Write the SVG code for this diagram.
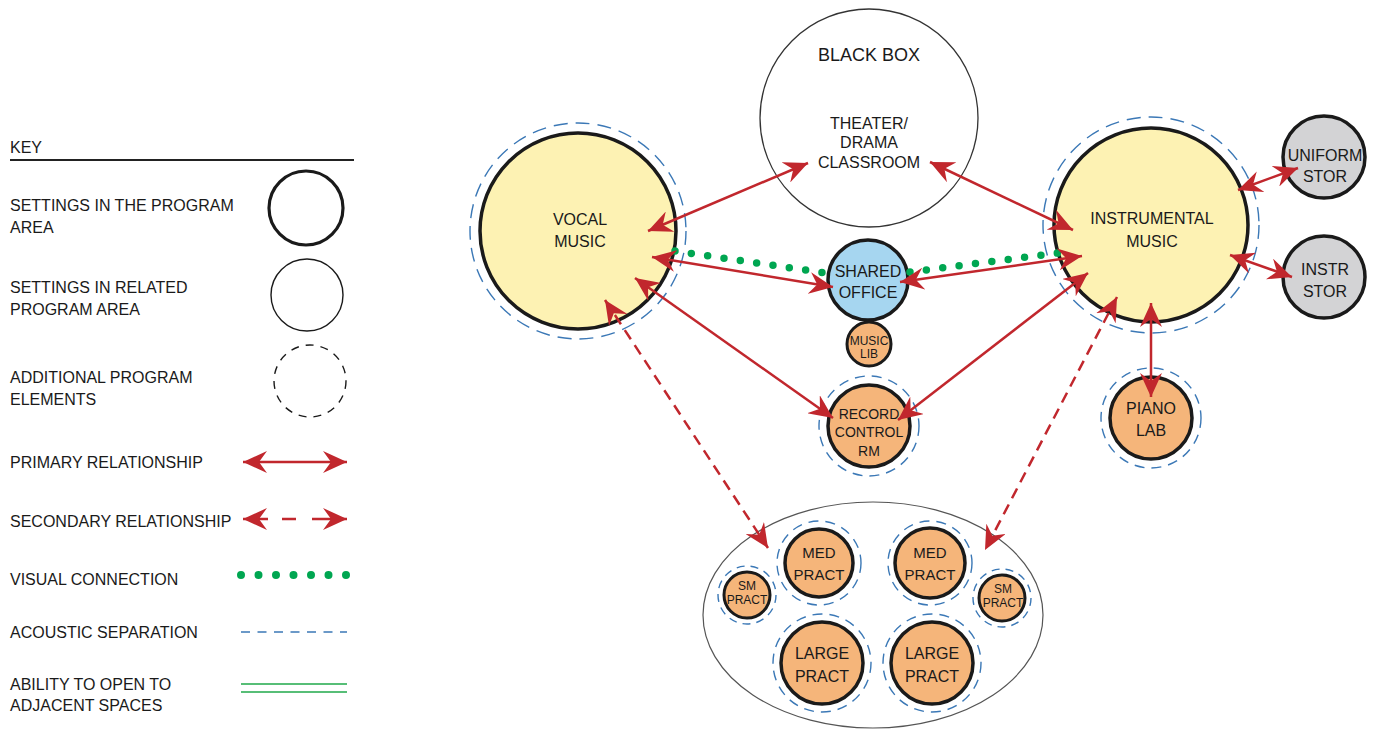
<svg xmlns="http://www.w3.org/2000/svg" width="1379" height="734" viewBox="0 0 1379 734">
<defs>
<style>
text{font-family:"Liberation Sans",Arial,sans-serif;fill:#1a1a1a;}
.lg{font-size:16px;}
.c{text-anchor:middle;}
.n16{font-size:16px;}
.n15{font-size:15px;}
.n14{font-size:14px;}
.n12{font-size:12px;}
.main{stroke:#1a1a1a;stroke-width:3.5;}
.yel{fill:#fdf2b3;}
.org{fill:#f5b57a;}
.blu{fill:#a6d6f0;}
.gry{fill:#d3d3d5;}
.ac{fill:none;stroke:#3b78b6;stroke-width:1.4;stroke-dasharray:14 8;}
.acs{fill:none;stroke:#3b78b6;stroke-width:1.4;stroke-dasharray:10 7;}
.pr{stroke:#c1272d;stroke-width:2.5;fill:none;marker-start:url(#ah);marker-end:url(#ah);}
.sec{stroke:#c1272d;stroke-width:2.5;fill:none;stroke-dasharray:11 7;marker-start:url(#ah);marker-end:url(#ah);}
.vis{stroke:#00a651;stroke-width:7.5;stroke-linecap:round;stroke-dasharray:0 16.5;fill:none;}
</style>
<marker id="ah" viewBox="0 0 24 22" refX="24" refY="11" markerWidth="24" markerHeight="22" markerUnits="userSpaceOnUse" orient="auto-start-reverse">
<path d="M24,11 L0,0 L8,11 L0,22 Z" fill="#c1272d"/>
</marker>
</defs>

<g id="legend">
<text class="lg" x="10" y="153">KEY</text>
<line x1="10" y1="160" x2="354" y2="160" stroke="#222" stroke-width="2"/>
<text class="lg" x="10" y="211">SETTINGS IN THE PROGRAM</text>
<text class="lg" x="10" y="233">AREA</text>
<circle cx="306" cy="208" r="37" fill="none" stroke="#1a1a1a" stroke-width="3.2"/>
<text class="lg" x="10" y="293">SETTINGS IN RELATED</text>
<text class="lg" x="10" y="315">PROGRAM AREA</text>
<circle cx="307" cy="295" r="36" fill="none" stroke="#1a1a1a" stroke-width="1.4"/>
<text class="lg" x="10" y="383">ADDITIONAL PROGRAM</text>
<text class="lg" x="10" y="405">ELEMENTS</text>
<circle cx="310" cy="381" r="36" fill="none" stroke="#1a1a1a" stroke-width="1.4" stroke-dasharray="8 7"/>
<text class="lg" x="10" y="468">PRIMARY RELATIONSHIP</text>
<line x1="243" y1="462" x2="347" y2="462" class="pr"/>
<text class="lg" x="10" y="527">SECONDARY RELATIONSHIP</text>
<line x1="243" y1="519" x2="347" y2="519" stroke="#c1272d" stroke-width="2.5" stroke-dasharray="25 14 14 16 35" marker-start="url(#ah)" marker-end="url(#ah)"/>
<text class="lg" x="10" y="585">VISUAL CONNECTION</text>
<line x1="241" y1="575" x2="347" y2="575" stroke="#00a651" stroke-width="8" stroke-linecap="round" stroke-dasharray="0 17.5"/>
<text class="lg" x="10" y="638">ACOUSTIC SEPARATION</text>
<line x1="241" y1="632" x2="347" y2="632" stroke="#3b78b6" stroke-width="1.4" stroke-dasharray="9 7.5"/>
<text class="lg" x="10" y="690">ABILITY TO OPEN TO</text>
<text class="lg" x="10" y="711">ADJACENT SPACES</text>
<line x1="241" y1="684" x2="347" y2="684" stroke="#1fa84a" stroke-width="1.4"/>
<line x1="241" y1="692" x2="347" y2="692" stroke="#1fa84a" stroke-width="1.4"/>
</g>

<g id="practice-area">
<ellipse cx="873" cy="615" rx="170" ry="113" fill="none" stroke="#555" stroke-width="1.2"/>
</g>

<g id="black-box">
<circle cx="869" cy="118" r="109" fill="#fff" stroke="#333" stroke-width="1.3"/>
<text class="c" x="869" y="61" style="font-size:18px">BLACK BOX</text>
<text class="c n16" x="869" y="129">THEATER/</text>
<text class="c n16" x="869" y="148">DRAMA</text>
<text class="c n16" x="869" y="168">CLASSROOM</text>
</g>

<g id="vocal-music">
<circle class="ac" cx="578" cy="231" r="108"/>
<circle class="main yel" cx="578" cy="231" r="98"/>
<text class="c n16" x="580" y="225">VOCAL</text>
<text class="c n16" x="580" y="247">MUSIC</text>
</g>

<g id="instrumental-music">
<circle class="ac" cx="1151" cy="225" r="108"/>
<circle class="main yel" cx="1151" cy="225" r="97"/>
<text class="c n16" x="1152" y="224">INSTRUMENTAL</text>
<text class="c n16" x="1152" y="247">MUSIC</text>
</g>

<g id="uniform-stor">
<circle class="main gry" cx="1324" cy="157" r="41"/>
<text class="c n16" x="1325" y="161">UNIFORM</text>
<text class="c n16" x="1325" y="182">STOR</text>
</g>

<g id="instr-stor">
<circle class="main gry" cx="1324" cy="277" r="41"/>
<text class="c n16" x="1325" y="275">INSTR</text>
<text class="c n16" x="1325" y="297">STOR</text>
</g>

<g id="piano-lab">
<circle class="acs" cx="1151" cy="418" r="50"/>
<circle class="main org" cx="1151" cy="418" r="41"/>
<text class="c n16" x="1151" y="414">PIANO</text>
<text class="c n16" x="1151" y="436">LAB</text>
</g>

<g id="shared-office">
<circle class="main blu" cx="868" cy="280" r="40"/>
<text class="c n16" x="868" y="277">SHARED</text>
<text class="c n16" x="868" y="298">OFFICE</text>
</g>

<g id="music-lib">
<circle class="main org" cx="869" cy="344" r="22" style="stroke-width:3"/>
<text class="c n12" x="869" y="345">MUSIC</text>
<text class="c n12" x="869" y="358">LIB</text>
</g>

<g id="record-control">
<circle class="acs" cx="869" cy="426" r="50"/>
<circle class="main org" cx="869" cy="426" r="41"/>
<text class="c n14" x="869" y="419">RECORD</text>
<text class="c n14" x="869" y="437">CONTROL</text>
<text class="c n14" x="869" y="456">RM</text>
</g>

<g id="med-pract-1">
<circle class="acs" cx="819" cy="563" r="42"/>
<circle class="main org" cx="819" cy="563" r="34"/>
<text class="c n15" x="819" y="558">MED</text>
<text class="c n15" x="819" y="580">PRACT</text>
</g>

<g id="med-pract-2">
<circle class="acs" cx="930" cy="563" r="42"/>
<circle class="main org" cx="930" cy="563" r="35"/>
<text class="c n15" x="930" y="558">MED</text>
<text class="c n15" x="930" y="580">PRACT</text>
</g>

<g id="sm-pract-1">
<circle class="acs" cx="747" cy="595" r="29" style="stroke-dasharray:8 6"/>
<circle class="org" cx="747" cy="595" r="23" stroke="#1a1a1a" stroke-width="3"/>
<text class="c n12" x="747" y="590">SM</text>
<text class="c n12" x="747" y="604">PRACT</text>
</g>

<g id="sm-pract-2">
<circle class="acs" cx="1002" cy="598" r="29" style="stroke-dasharray:8 6"/>
<circle class="org" cx="1002" cy="598" r="23" stroke="#1a1a1a" stroke-width="3"/>
<text class="c n12" x="1003" y="593">SM</text>
<text class="c n12" x="1003" y="607">PRACT</text>
</g>

<g id="large-pract-1">
<circle class="acs" cx="822" cy="663" r="49"/>
<circle class="main org" cx="822" cy="663" r="41"/>
<text class="c n16" x="822" y="659">LARGE</text>
<text class="c n16" x="822" y="682">PRACT</text>
</g>

<g id="large-pract-2">
<circle class="acs" cx="932" cy="663" r="49"/>
<circle class="main org" cx="932" cy="663" r="41"/>
<text class="c n16" x="932" y="659">LARGE</text>
<text class="c n16" x="932" y="682">PRACT</text>
</g>

<g id="connectors">
<line class="vis" x1="675" y1="251" x2="826" y2="273"/>
<line class="vis" x1="910" y1="272" x2="1058" y2="253"/>
<line class="pr" x1="648" y1="231" x2="808" y2="163"/>
<line class="pr" x1="930" y1="162" x2="1073" y2="230"/>
<line class="pr" x1="652" y1="257" x2="833" y2="287"/>
<line class="pr" x1="900" y1="282" x2="1082" y2="256"/>
<line class="pr" x1="635" y1="278" x2="833" y2="418"/>
<line class="pr" x1="1088" y1="273" x2="898" y2="420"/>
<line class="pr" x1="1151" y1="303" x2="1151" y2="397"/>
<line class="pr" x1="1238" y1="190" x2="1298" y2="168"/>
<line class="pr" x1="1230" y1="255" x2="1292" y2="277"/>
<line class="sec" x1="605" y1="300" x2="768" y2="548"/>
<line class="sec" x1="1117" y1="297" x2="985" y2="550"/>
</g>
</svg>
